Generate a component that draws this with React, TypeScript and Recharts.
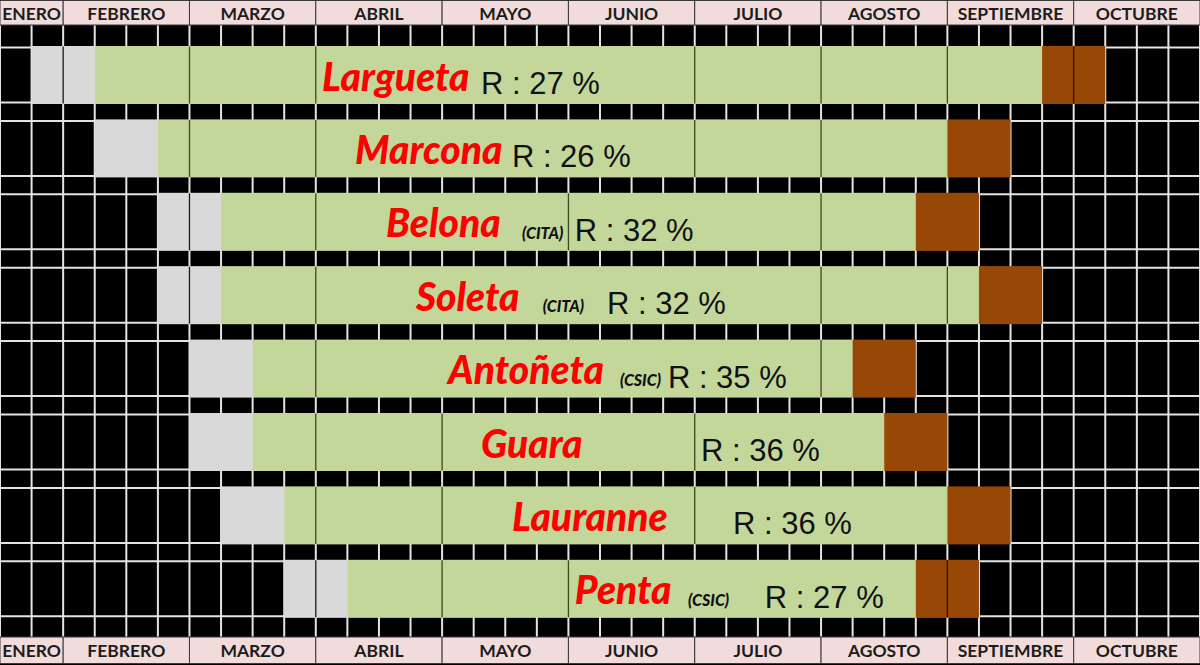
import React from 'react';
import { BarChart, Bar, XAxis, YAxis, CartesianGrid } from 'recharts';

// ---------- data ----------
const varieties = ['Largueta', 'Marcona', 'Belona', 'Soleta', 'Antoñeta', 'Guara', 'Lauranne', 'Penta'];
const institutes = ['', '', '(CITA)', '(CITA)', '(CSIC)', '', '', '(CSIC)'];
const yieldPct = [27, 26, 32, 32, 35, 36, 36, 27];

// phases, in weeks counted from mid January (column units of the calendar)
const flowerStart = [1, 3, 5, 5, 6, 6, 7, 9];
const growthStart = [3, 5, 7, 7, 8, 8, 9, 11];
const harvestStart = [33, 30, 29, 31, 27, 28, 30, 29];
const harvestEnd = [35, 32, 31, 33, 29, 30, 32, 31];

// cell borders visible inside each phase
const flowerBreaks = [[2], [], [6], [6], [], [], [], [10]];
const growthBreaks = [
  [6, 10, 22, 26, 30],
  [6, 10, 22, 26],
  [10, 18, 26],
  [10, 26, 30],
  [10, 26],
  [10, 14, 22],
  [10, 14, 22],
  [14, 18],
];
const harvestBreaks = [[34], [], [], [], [], [], [], [30]];

const months = ['ENERO', 'FEBRERO', 'MARZO', 'ABRIL', 'MAYO', 'JUNIO', 'JULIO', 'AGOSTO', 'SEPTIEMBRE', 'OCTUBRE'];
const monthWeeks = [2, 4, 4, 4, 4, 4, 4, 4, 4, 4];

// ---------- layout ----------
const CHART_W = 1200;
const CHART_H = 665;
const HEADER_TOP = 25;
const HEADER_BOTTOM = 28;
const TOTAL_WEEKS = monthWeeks.reduce((a, b) => a + b, 0);
const COL_W = CHART_W / TOTAL_WEEKS;

const monthStarts: number[] = [];
monthWeeks.reduce((acc, w) => {
  monthStarts.push(acc);
  return acc + w;
}, 0);
const monthCenters = monthStarts.map((s, i) => s + monthWeeks[i] / 2);
const weekTicks = Array.from({ length: TOTAL_WEEKS + 1 }, (_, k) => k);

// text anchors inside the growth bar (calendar column units)
const nameAt = [10.2, 11.24, 12.22, 13.17, 14.19, 15.23, 16.21, 18.2];
const instituteAt = [0, 0, 16.53, 17.19, 19.63, 0, 0, 21.79];
const yieldAt = [15.23, 16.21, 18.2, 19.22, 21.15, 22.2, 23.21, 24.22];

const data = varieties.map((name, i) => ({
  name,
  row: i,
  pre: flowerStart[i],
  flower: growthStart[i] - flowerStart[i],
  growth: harvestStart[i] - growthStart[i],
  harvest: harvestEnd[i] - harvestStart[i],
}));

const GRID = '#e4e4e4';
const LABEL_FONT = "Lato, 'Open Sans', sans-serif";

const renderLabels = (i: number, x: number, s: number, ppw: number, y: number, h: number) => {
  const cy = y + h / 2;
  const nx = x + (nameAt[i] - s) * ppw;
  const yx = x + (yieldAt[i] - s) * ppw;
  const ix = institutes[i] ? x + (instituteAt[i] - s) * ppw : null;
  const clipRight = (ix !== null ? ix : yx) - 8;
  const clipId = `name-clip-${i}`;
  return (
    <g>
      <defs>
        <clipPath id={clipId}>
          <rect x={nx - 6} y={y} width={clipRight - nx + 6} height={h} />
        </clipPath>
      </defs>
      <text
        x={nx}
        y={cy + 15.5}
        clipPath={`url(#${clipId})`}
        fontFamily={LABEL_FONT}
        fontWeight={900}
        fontStyle="italic"
        fontSize={39}
        fill="#ff0000"
      >
        {varieties[i]}
      </text>
      {ix !== null && (
        <text
          x={ix}
          y={cy + 17}
          fontFamily={LABEL_FONT}
          fontWeight={900}
          fontStyle="italic"
          fontSize={16}
          fill="#111111"
        >
          {institutes[i]}
        </text>
      )}
      <text x={yx} y={cy + 19} fontFamily="'Liberation Sans', Arial, sans-serif" fontSize={31} fill="#111111">
        {`R : ${yieldPct[i]} %`}
      </text>
    </g>
  );
};

const makeShape =
  (fill: string, breaks: number[][], starts: number[], ends: number[], breakColor: string, labels: boolean) =>
  (props: any) => {
    const { x, y, width, height, payload } = props;
    const i = payload.row;
    const s = starts[i];
    const e = ends[i];
    const ppw = width / (e - s);
    return (
      <g>
        <rect x={x} y={y - 1.5} width={width} height={height + 3} fill={fill} />
        {breaks[i].map((b) => {
          const bx = x + (b - s) * ppw;
          return <line key={b} x1={bx} x2={bx} y1={y - 1} y2={y + height + 1} stroke={breakColor} strokeWidth={1.3} />;
        })}
        {labels && renderLabels(i, x, s, ppw, y, height)}
      </g>
    );
  };

const flowerShape = makeShape('#d9d9d9', flowerBreaks, flowerStart, growthStart, '#1a1a1a', false);
const growthShape = makeShape('#c4d79b', growthBreaks, growthStart, harvestStart, '#3b4a1c', true);
const harvestShape = makeShape('#974706', harvestBreaks, harvestStart, harvestEnd, '#2a1200', false);

const rowLines = (p: any) => (
  <g key={`bg-${p.index}`}>
    <line x1={p.x} x2={p.x + p.width} y1={p.y} y2={p.y} stroke={GRID} strokeWidth={2} />
    <line x1={p.x} x2={p.x + p.width} y1={p.y + p.height} y2={p.y + p.height} stroke={GRID} strokeWidth={2} />
  </g>
);

const MonthTick = (props: any) => {
  const { x, payload, side } = props;
  const i = monthCenters.indexOf(payload.value);
  if (i < 0) return <g />;
  const w = monthWeeks[i] * COL_W;
  const top = side === 'top' ? 0.5 : CHART_H - HEADER_BOTTOM;
  const h = side === 'top' ? HEADER_TOP - 0.5 : HEADER_BOTTOM - 1.5;
  const baseline = side === 'top' ? 20 : CHART_H - 8;
  return (
    <g>
      <rect x={x - w / 2} y={top} width={w} height={h} fill="#f2dcdb" stroke="#3a3a3a" strokeWidth={1} />
      <text
        x={x}
        y={baseline}
        textAnchor="middle"
        fontFamily={LABEL_FONT}
        fontWeight={700}
        fontSize={17.5}
        fill="#1c1c1c"
      >
        {months[i]}
      </text>
    </g>
  );
};

export default function App() {
  return (
    <div style={{ position: 'absolute', left: 0, top: 0, width: CHART_W, height: CHART_H, background: '#000' }}>
      <BarChart
        width={CHART_W}
        height={CHART_H}
        data={data}
        layout="vertical"
        margin={{ top: 0, right: 0, bottom: 0, left: 0 }}
        barSize={55}
      >
        <CartesianGrid
          xAxisId="bottom"
          horizontal={false}
          verticalValues={weekTicks}
          stroke={GRID}
          strokeWidth={2}
        />
        <XAxis
          xAxisId="top"
          orientation="top"
          type="number"
          domain={[0, TOTAL_WEEKS]}
          allowDataOverflow
          ticks={monthCenters}
          interval={0}
          height={HEADER_TOP}
          axisLine={false}
          tickLine={false}
          tick={(p: any) => <MonthTick {...p} side="top" />}
        />
        <XAxis
          xAxisId="bottom"
          orientation="bottom"
          type="number"
          domain={[0, TOTAL_WEEKS]}
          allowDataOverflow
          ticks={monthCenters}
          interval={0}
          height={HEADER_BOTTOM}
          axisLine={false}
          tickLine={false}
          tick={(p: any) => <MonthTick {...p} side="bottom" />}
        />
        <YAxis type="category" dataKey="name" hide padding={{ top: 13.5, bottom: 11.3 }} />
        <Bar
          xAxisId="bottom"
          dataKey="pre"
          stackId="a"
          isAnimationActive={false}
          background={rowLines}
          shape={() => <g />}
        />
        <Bar xAxisId="bottom" dataKey="flower" stackId="a" isAnimationActive={false} shape={flowerShape} />
        <Bar xAxisId="bottom" dataKey="growth" stackId="a" isAnimationActive={false} shape={growthShape} />
        <Bar xAxisId="bottom" dataKey="harvest" stackId="a" isAnimationActive={false} shape={harvestShape} />
      </BarChart>
    </div>
  );
}
